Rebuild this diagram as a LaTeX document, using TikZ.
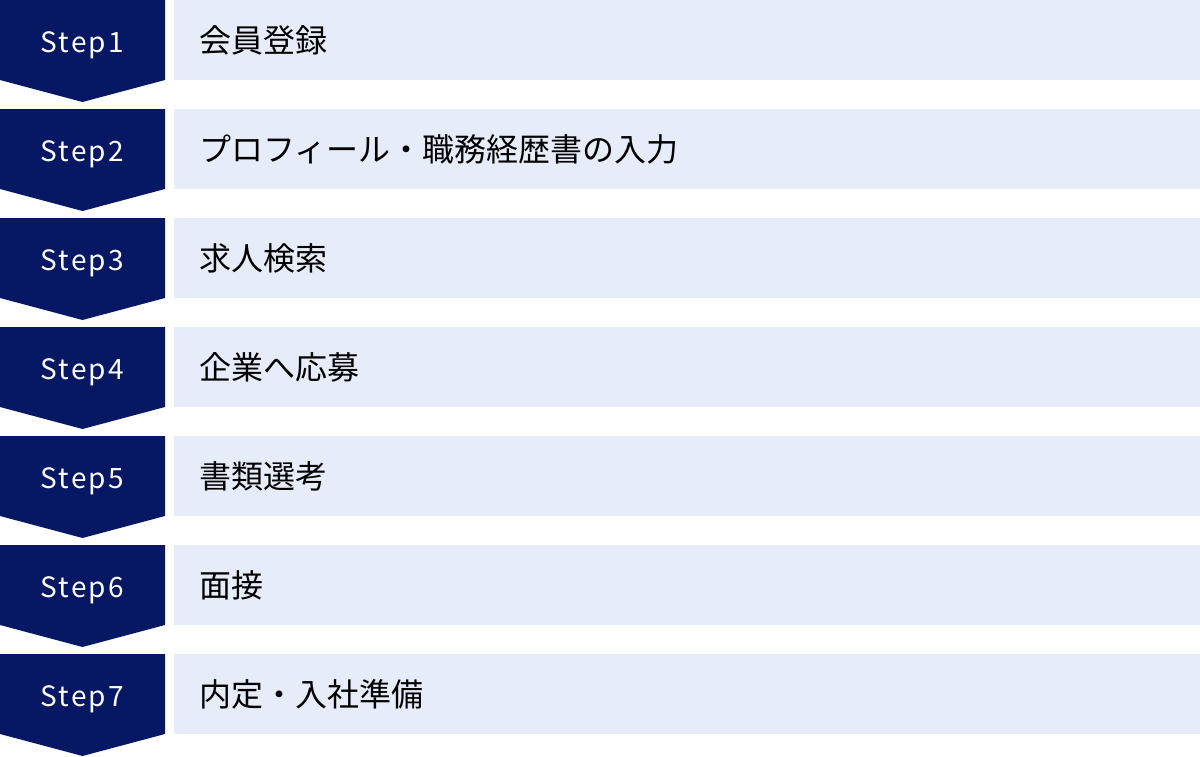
\documentclass[tikz,border=0pt]{standalone}
\usepackage{fontspec}
\newfontfamily\cjk{Noto Sans CJK JP}
\newfontfamily\cjkwide[LetterSpace=8]{Noto Sans CJK JP}
\definecolor{navy}{HTML}{061863}
\definecolor{pale}{HTML}{E6ECF9}
\tikzset{
  stepshape/.style={fill=navy},
  barshape/.style={fill=pale},
  steplabel/.style={text=white,font=\cjkwide\fontsize{28}{28}\selectfont,inner sep=0pt,anchor=base west},
  itemlabel/.style={text=black,font=\cjk\fontsize{32}{32}\selectfont,inner sep=0pt,anchor=west}
}
\begin{document}
\begin{tikzpicture}[x=1pt,y=-1pt]
\useasboundingbox (0,0) rectangle (1200,756);
\foreach \i/\lab in {1/会員登録,2/プロフィール・職務経歴書の入力,3/求人検索,4/企業へ応募,5/書類選考,6/面接,7/内定・入社準備}{
  \pgfmathsetmacro{\t}{109*(\i-1)}
  \fill[stepshape] (0,\t) -- (165,\t) -- (165,\t+80) -- (82.5,\t+102) -- (0,\t+80) -- cycle;
  \fill[barshape] (174,\t) rectangle (1200,\t+80);
  \node[steplabel] (step\i) at (40.5,\t+52) {Step\i};
  \node[itemlabel] (item\i) at (199,\t+40) {\lab};
}
\end{tikzpicture}
\end{document}
